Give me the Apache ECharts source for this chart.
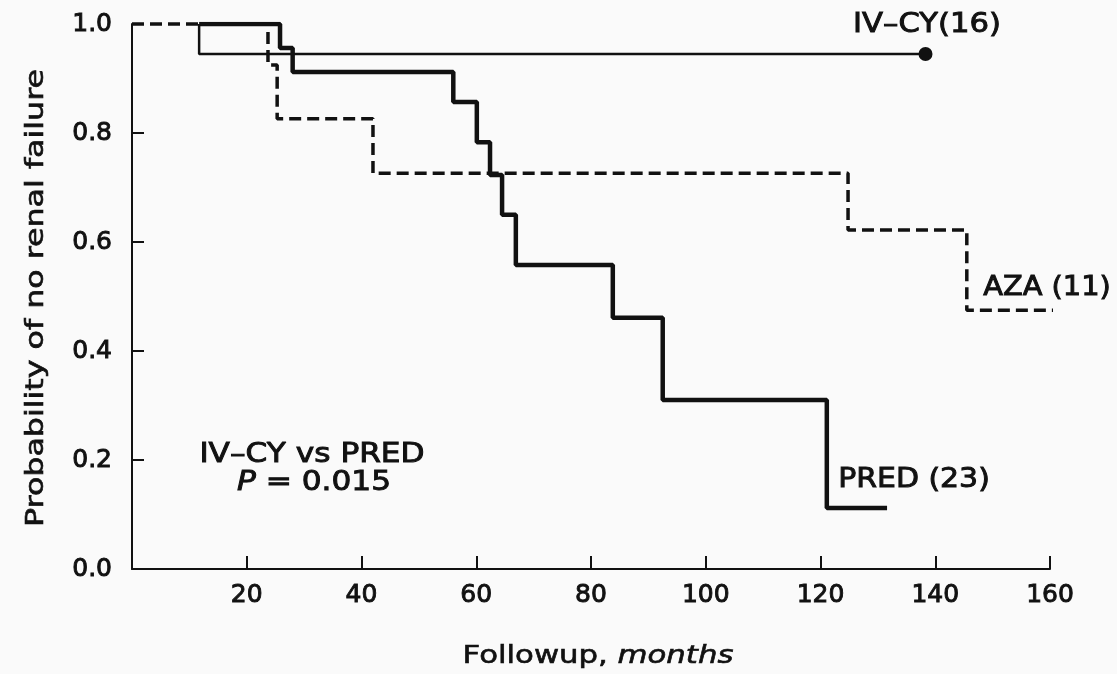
<!DOCTYPE html>
<html>
<head>
<meta charset="utf-8">
<script src="https://cdn.jsdelivr.net/npm/echarts@6/dist/echarts.min.js"></script>
<style>
html, body { margin: 0; padding: 0; background: #fafafa; }
#chart { width: 1117px; height: 674px; }
</style>
</head>
<body>
<div id="chart"></div>
<script>
// 随访月数 / 无肾衰竭概率
var ivcyMonths = [11.7, 11.7, 138.3];
var ivcyProb   = [1.0, 0.945, 0.945];
var predMonths = [11.7, 25.8, 28.0, 56.0, 60.1, 62.4, 64.5, 66.9, 83.8, 92.5, 121.1, 131.6];
var predProb   = [1.0, 0.956, 0.912, 0.857, 0.783, 0.723, 0.650, 0.558, 0.461, 0.310, 0.112, 0.112];
var azaMonths  = [0, 23.7, 25.3, 42.0, 124.8, 145.5, 162.1];
var azaProb    = [1.0, 0.925, 0.826, 0.726, 0.622, 0.475, 0.475];

var xMin = 0, xMax = 160, xStep = 20;
var yMin = 0, yMax = 1, yStep = 0.2;

function pairs(xs, ys) {
	var out = [];
	for (var i = 0; i < xs.length; i++) {
		out.push([xs[i], ys[i]]);
	}
	return out;
}

var ink = '#111';
var fontName = 'DejaVu Sans';
var heavy = 0.9; // 扫描件字体偏粗, 用描边加粗

function label(text, x, y, sx, extra) {
	var el = {
		type: 'text',
		x: x,
		y: y,
		scaleX: sx,
		silent: true,
		style: {
			text: text,
			fontFamily: fontName,
			fontSize: 26,
			fill: ink,
			stroke: ink,
			lineWidth: heavy,
			textAlign: 'center',
			textVerticalAlign: 'middle'
		}
	};
	if (extra) {
		for (var k in extra) el.style[k] = extra[k];
	}
	return el;
}

var dom = document.getElementById('chart');
var chart = echarts.init(dom);

var option = {
	animation: false,
	backgroundColor: '#fafafa',
	grid: {
		left: 132,
		right: 67,
		top: 24,
		bottom: 105,
		containLabel: false,
		outerBoundsMode: 'none'
	},
	xAxis: {
		type: 'value',
		min: xMin,
		max: xMax,
		interval: xStep,
		axisLine: { show: true, onZero: false, lineStyle: { color: ink, width: 2 } },
		axisTick: { show: true, inside: true, length: 13, lineStyle: { color: ink, width: 2 } },
		axisLabel: {
			margin: 14,
			fontFamily: fontName,
			fontSize: 25,
			color: ink,
			textBorderColor: ink,
			textBorderWidth: heavy,
			formatter: function (v) { return v === 0 ? '' : String(v); }
		},
		splitLine: { show: false }
	},
	yAxis: {
		type: 'value',
		min: yMin,
		max: yMax,
		interval: yStep,
		axisLine: { show: true, onZero: false, lineStyle: { color: ink, width: 2 } },
		axisTick: { show: true, inside: true, length: 12, lineStyle: { color: ink, width: 2 } },
		axisLabel: {
			margin: 20,
			fontFamily: fontName,
			fontSize: 25,
			color: ink,
			textBorderColor: ink,
			textBorderWidth: heavy,
			formatter: function (v) { return v.toFixed(1); }
		},
		splitLine: { show: false }
	},
	series: [
		{
			name: 'AZA (11)',
			type: 'line',
			step: 'end',
			clip: false,
			symbol: 'none',
			data: pairs(azaMonths, azaProb),
			lineStyle: { color: ink, width: 3.5, type: [12, 6] },
			z: 2
		},
		{
			name: 'PRED (23)',
			type: 'line',
			step: 'end',
			symbol: 'none',
			data: pairs(predMonths, predProb),
			lineStyle: { color: ink, width: 4.5 },
			z: 3
		},
		{
			name: 'IV-CY (16)',
			type: 'line',
			step: 'end',
			symbol: 'none',
			data: pairs(ivcyMonths, ivcyProb),
			lineStyle: { color: ink, width: 2.5 },
			z: 4
		},
		{
			// IV-CY 末端的实心圆点
			type: 'scatter',
			symbol: 'circle',
			symbolSize: 14,
			data: [[ivcyMonths[ivcyMonths.length - 1], ivcyProb[ivcyProb.length - 1]]],
			itemStyle: { color: ink, opacity: 1 },
			z: 5
		}
	],
	graphic: [
		label('IV–CY(16)', 927, 25, 1.18),
		label('AZA (11)', 1047, 288, 1.11),
		label('PRED (23)', 914, 480, 1.15),
		label('IV–CY vs PRED', 312, 455, 1.2),
		label('{i|P} = 0.015', 314, 483, 1.2, {
			rich: {
				i: { fontFamily: fontName, fontSize: 26, fontStyle: 'italic', fill: ink, stroke: ink, lineWidth: heavy }
			}
		}),
		{
			type: 'text',
			x: 37,
			y: 298,
			rotation: Math.PI / 2,
			scaleX: 1.32,
			silent: true,
			style: {
				text: 'Probability of no renal failure',
				fontFamily: fontName,
				fontSize: 24,
				fill: ink,
				stroke: ink,
				lineWidth: 0.6,
				textAlign: 'center',
				textVerticalAlign: 'middle'
			}
		},
		label('Followup, {i|months}', 598, 656, 1.23, {
			fontSize: 25,
			lineWidth: 0.6,
			rich: {
				i: { fontFamily: fontName, fontSize: 25, fontStyle: 'italic', fill: ink, stroke: ink, lineWidth: 0.6 }
			}
		})
	]
};

chart.setOption(option, true);
window.addEventListener('resize', function (e) {
	chart.resize();
});
</script>
</body>
</html>
